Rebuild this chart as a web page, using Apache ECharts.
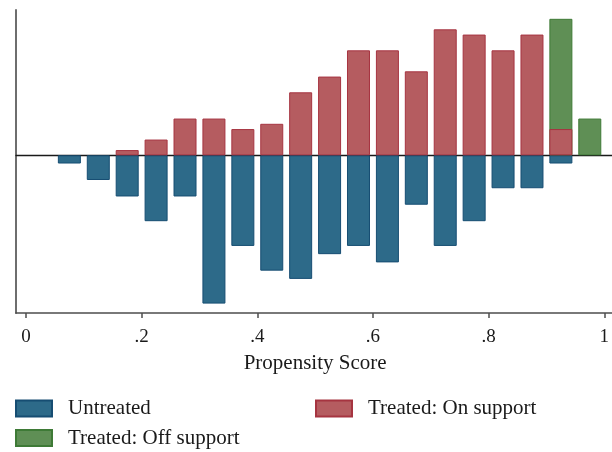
<!DOCTYPE html>
<html>
<head>
<meta charset="utf-8">
<script src="https://cdn.jsdelivr.net/npm/echarts@6/dist/echarts.min.js"></script>
<style>
html,body{margin:0;padding:0;background:#fff;}
#chart{width:612px;height:452px;}
</style>
</head>
<body>
<div id="chart"></div>
<script>
// Bin midpoints of the propensity score histogram
var binMid = [0.075,0.125,0.175,0.225,0.275,0.325,0.375,0.425,0.475,0.525,0.575,0.625,0.675,0.725,0.775,0.825,0.875,0.925,0.975];
// Frequencies per bin
var untreated  = [1,3,5,8,5,18,11,14,15,12,11,13,6,11,8,4,4,1,0];
var treatedOn  = [0,0,1,3,7,7,5,6,12,15,20,20,16,24,23,20,23,5,0];
var treatedOff = [0,0,0,0,0,0,0,0,0,0,0,0,0,0,0,0,0,21,7];
var xTicks = [0,0.2,0.4,0.6,0.8,1];
var seriesNames = ['Untreated','Treated: On support','Treated: Off support'];

function pairs(vals, sign){
  return binMid.map(function(x,i){ return [x, vals[i] === 0 ? '-' : sign*vals[i]]; });
}
// Off-support bars sit on top of the on-support bars in the same bin
function offPairs(){
  return binMid.map(function(x,i){ return [x, treatedOff[i] === 0 ? '-' : treatedOn[i] + treatedOff[i]]; });
}
function tickLabel(v){
  for (var i=0;i<xTicks.length;i++){
    if (Math.abs(v-xTicks[i])<1e-9){
      var s = String(Math.round(xTicks[i]*10)/10);
      return s.replace(/^0\./,'.');
    }
  }
  return '';
}

var FONT = '"Liberation Serif", "DejaVu Serif", serif';
var legendText = {fontFamily:FONT, fontSize:21, color:'#1a1a1a', padding:[0,0,0,11]};
function legendAt(left, top, name){
  return {left:left, top:top, orient:'horizontal', itemWidth:36, itemHeight:16,
          icon:'rect', data:[name], textStyle:legendText};
}
var chart = echarts.init(document.getElementById('chart'), null, {renderer:'canvas'});
var option = {
  animation:false,
  backgroundColor:'#ffffff',
  grid:[
    {left:16, right:0, top:10, bottom:139},
    {left:26, right:1.3, top:10, bottom:139}
  ],
  xAxis:[
    {gridIndex:0, type:'value', min:0, max:1, position:'bottom',
     axisLine:{show:true, onZero:false, lineStyle:{color:'#4d4d4d', width:1.6}},
     axisTick:{show:false}, axisLabel:{show:false}, splitLine:{show:false}},
    {gridIndex:0, type:'value', min:0, max:1, position:'top',
     axisLine:{show:true, onZero:true, onZeroAxisIndex:0, lineStyle:{color:'#1a1a1a', width:1.3}},
     axisTick:{show:false}, axisLabel:{show:false}, splitLine:{show:false}},
    {gridIndex:1, type:'value', min:0, max:1, interval:0.2,
     name:'Propensity Score', nameLocation:'middle', nameGap:40,
     nameTextStyle:{fontFamily:FONT, fontSize:21, color:'#1a1a1a'},
     axisLine:{show:false, onZero:false},
     axisTick:{show:true, inside:false, length:5, lineStyle:{color:'#4d4d4d', width:1.5}},
     axisLabel:{show:true, margin:15, fontFamily:FONT, fontSize:19, color:'#1a1a1a', formatter:tickLabel,
                alignMinLabel:'center', alignMaxLabel:'center', hideOverlap:false},
     splitLine:{show:false}}
  ],
  yAxis:[
    {gridIndex:0, type:'value', min:-30.04, max:27.68,
     axisLine:{show:true, onZero:false, lineStyle:{color:'#6e6e6e', width:2}},
     axisTick:{show:false}, axisLabel:{show:false}, splitLine:{show:false}},
    {gridIndex:1, type:'value', min:-30.04, max:27.68, show:false, splitLine:{show:false}},
    {gridIndex:1, type:'value', min:-19.14, max:17.63, show:false, splitLine:{show:false}}
  ],
  legend:[
    legendAt(10, 393, seriesNames[0]),
    legendAt(310, 393, seriesNames[1]),
    legendAt(10, 422.5, seriesNames[2])
  ],
  series:[
    {name:seriesNames[0], type:'bar', xAxisIndex:2, yAxisIndex:2, barWidth:23, barGap:'-100%',
     data:pairs(untreated,-1),
     itemStyle:{color:'#2d6a89', borderColor:'#164d72', borderWidth:1}},
    {name:seriesNames[2], type:'bar', xAxisIndex:2, yAxisIndex:1, barWidth:23, barGap:'-100%',
     data:offPairs(),
     itemStyle:{color:'#5f8f55', borderColor:'#3e7a36', borderWidth:1}},
    {name:seriesNames[1], type:'bar', xAxisIndex:2, yAxisIndex:1, barWidth:23, barGap:'-100%',
     data:pairs(treatedOn,1),
     itemStyle:{color:'#b55c60', borderColor:'#a63440', borderWidth:1}}
  ]
};
chart.setOption(option);
</script>
</body>
</html>
